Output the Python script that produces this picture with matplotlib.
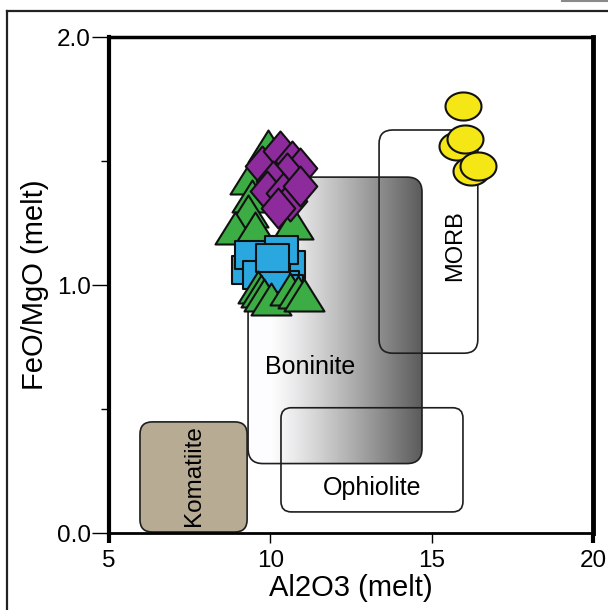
import numpy as np
import matplotlib
matplotlib.use("Agg")
import matplotlib.pyplot as plt
from matplotlib.patches import FancyBboxPatch
from matplotlib.path import Path
from matplotlib.lines import Line2D
from matplotlib import font_manager

# ---------------- data ----------------
x_ticks = [5, 10, 15, 20]
y_ticks = [0.0, 1.0, 2.0]
y_minor = [0.5, 1.5]

# MORB glass (yellow circles)
circ_x = [15.97, 15.78, 16.03, 16.22, 16.43]
circ_y = [1.72, 1.56, 1.59, 1.46, 1.48]

# green triangles (two sample groups)
triA_x = [9.93, 9.37, 9.43, 9.31, 8.90, 10.70, 9.52]
triA_y = [1.56, 1.43, 1.36, 1.30, 1.23, 1.25, 1.23]
triB_x = [9.62, 9.72, 9.80, 10.02, 10.62, 10.85, 11.05]
triB_y = [0.99, 0.975, 0.96, 0.945, 0.985, 0.97, 0.96]

# blue squares
sq_x = [9.30, 9.40, 9.64, 10.55, 10.36, 10.50, 10.08, 10.33, 10.05]
sq_y = [1.06, 1.12, 1.04, 1.08, 1.00, 0.985, 1.03, 1.14, 1.11]

# purple diamonds
dia_x = [9.74, 10.30, 10.67, 10.92, 10.52, 10.08, 9.90, 10.39, 10.61, 10.24, 10.92]
dia_y = [1.48, 1.54, 1.50, 1.47, 1.45, 1.42, 1.38, 1.37, 1.34, 1.31, 1.40]

# fields: name -> (x0, y0, x1, y1)
boninite = (9.31, 0.28, 14.70, 1.435)
morb = (13.37, 0.725, 16.43, 1.625)
ophiolite = (10.33, 0.085, 15.97, 0.505)
komatiite = (5.96, 0.004, 9.28, 0.448)

# ---------------- fonts ----------------
names = {f.name for f in font_manager.fontManager.ttflist}
main_font = "Liberation Sans" if "Liberation Sans" in names else "DejaVu Sans"
narrow_font = "Liberation Sans Narrow" if "Liberation Sans Narrow" in names else main_font
plt.rcParams["font.family"] = [main_font, "DejaVu Sans"]

# ---------------- figure ----------------
W, H = 608, 610
fig = plt.figure(figsize=(W / 100, H / 100), dpi=100)
ax = fig.add_axes([109 / W, 77 / H, (593 - 109) / W, (533 - 37) / H])
ax.set_xlim(5, 20)
ax.set_ylim(0, 2)

aspect = (2 / 496) / (15 / 484)  # y data per x data for equal pixel length

edge = "#1e1e1e"

def rbox(b, r, **kw):
    x0, y0, x1, y1 = b
    p = FancyBboxPatch((x0, y0), x1 - x0, y1 - y0,
                       boxstyle=f"round,pad=0,rounding_size={r}",
                       mutation_aspect=aspect, **kw)
    ax.add_patch(p)
    return p

# Boninite gradient field
bp = rbox(boninite, 0.46, facecolor="none", edgecolor=edge, linewidth=1.2, zorder=2)
xs = np.linspace(boninite[0], boninite[2], 400)
t = np.clip((xs - 10.0) / (boninite[2] - 10.0), 0, 1)
g = 1 - 0.64 * t ** 1.15
img = np.tile(g, (2, 1))
rgb = np.dstack([img * 0.995, img * 0.995, img])
im = ax.imshow(rgb, extent=[boninite[0], boninite[2], boninite[1], boninite[3]],
               aspect="auto", origin="lower", zorder=1, interpolation="bilinear")
clip = rbox(boninite, 0.46, facecolor="none", edgecolor="none", zorder=0)
im.set_clip_path(clip)

rbox(komatiite, 0.38, facecolor="#b8ab94", edgecolor=edge, linewidth=1.2, zorder=2)
rbox(ophiolite, 0.32, facecolor="none", edgecolor=edge, linewidth=1.2, zorder=2)
rbox(morb, 0.42, facecolor="none", edgecolor=edge, linewidth=1.2, zorder=2)

ax.text(11.23, 0.67, "Boninite", fontsize=18, ha="center", va="center", zorder=3)
ax.text(13.15, 0.18, "Ophiolite", fontsize=18, ha="center", va="center", zorder=3)
ax.text(15.72, 1.16, "MORB", fontsize=17, family=[narrow_font, "DejaVu Sans"],
        rotation=90, ha="center", va="center", zorder=3)
ax.text(7.62, 0.23, "Komatiite", fontsize=17.5, family=[narrow_font, "DejaVu Sans"],
        rotation=90, ha="center", va="center", zorder=3)

# ---------------- markers ----------------
th = np.linspace(0, 2 * np.pi, 60)
ellipse = Path(np.column_stack([np.cos(th), 0.78 * np.sin(th)]), closed=True)
tri = Path([(-1, -0.8), (1, -0.8), (0, 0.8), (-1, -0.8)], closed=True)
square = Path([(-1, -0.86), (1, -0.86), (1, 0.86), (-1, 0.86), (-1, -0.86)], closed=True)
diamond = Path([(0, 1), (0.84, 0), (0, -1), (-0.84, 0), (0, 1)], closed=True)

pt = 72 / 100  # points per pixel
lw = 1.5

ax.scatter(circ_x, circ_y, marker=ellipse, s=(36 * pt) ** 2, facecolor="#f5e716",
           edgecolor="#111111", linewidth=lw, zorder=5)
ax.scatter(triA_x, triA_y, marker=tri, s=(40 * pt) ** 2, facecolor="#3cad45",
           edgecolor="#111111", linewidth=lw, zorder=5)
ax.scatter(sq_x, sq_y, marker=square, s=(33 * pt) ** 2, facecolor="#2ba7df",
           edgecolor="#111111", linewidth=lw, zorder=6)
ax.scatter(triB_x, triB_y, marker=tri, s=(40 * pt) ** 2, facecolor="#3cad45",
           edgecolor="#111111", linewidth=lw, zorder=7)
ax.scatter(dia_x, dia_y, marker=diamond, s=(40 * pt) ** 2, facecolor="#8e2b9c",
           edgecolor="#111111", linewidth=lw, zorder=8)

# ---------------- axes styling ----------------
ax.spines["left"].set_linewidth(3.0)
ax.spines["right"].set_linewidth(3.5)
ax.spines["top"].set_linewidth(2.5)
ax.spines["bottom"].set_linewidth(2.0)

ax.set_xticks(x_ticks)
ax.set_xticklabels([str(v) for v in x_ticks])
ax.set_yticks(y_ticks)
ax.set_yticklabels([f"{v:.1f}" for v in y_ticks])
ax.set_yticks(y_minor, minor=True)
ax.tick_params(axis="x", direction="out", length=7, width=1.0, pad=5, labelsize=17.5)
ax.tick_params(axis="y", which="major", direction="out", length=12, width=1.0, pad=1,
               labelsize=17.5)
ax.tick_params(axis="y", which="minor", direction="out", length=6, width=1.0)
xt = ax.xaxis.get_major_ticks()
for i in (0, -1):
    xt[i].tick1line.set_markeredgewidth(3.0)

ax.set_xlabel("Al2O3 (melt)", fontsize=21, labelpad=2)
ax.set_ylabel("FeO/MgO (melt)", fontsize=21, labelpad=6)

# outer frame
fig.add_artist(Line2D([7 / W, 7 / W], [0, 1 - 11 / H], transform=fig.transFigure,
                      color="#222222", linewidth=1.6))
fig.add_artist(Line2D([7 / W, 1], [1 - 11 / H, 1 - 11 / H], transform=fig.transFigure,
                      color="#222222", linewidth=1.6))
fig.add_artist(Line2D([562 / W, 1], [1 - 0.5 / H, 1 - 0.5 / H], transform=fig.transFigure,
                      color="#8a8a8a", linewidth=1.5))

fig.savefig("out.png", dpi=100)
